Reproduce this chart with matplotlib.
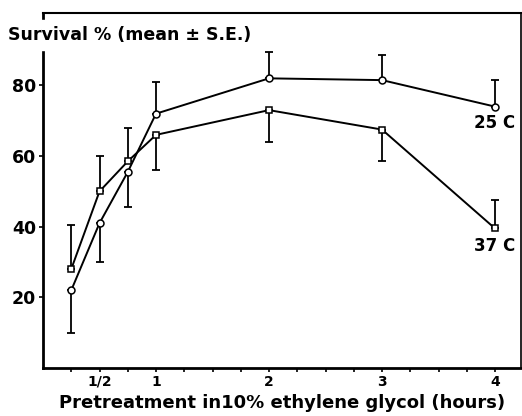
import matplotlib
matplotlib.use("Agg")
import matplotlib.pyplot as plt

hours = [0.25, 0.5, 0.75, 1, 2, 3, 4]

# 25 C series (open circles)
surv_25 = [22, 41, 55.5, 72, 82, 81.5, 74]
se_25 = [12, 11, 10, 9, 7.5, 7, 7.5]
side_25 = ['down', 'down', 'down', 'up', 'up', 'up', 'up']

# 37 C series (open squares)
surv_37 = [28, 50, 58.5, 66, 73, 67.5, 39.5]
se_37 = [12.5, 10, 9.5, 10, 9, 9, 8]
side_37 = ['up', 'up', 'up', 'down', 'down', 'down', 'up']

xtick_pos = [0.25, 0.5, 0.75, 1, 2, 3, 4]
xtick_labels = ['', '1/2', '', '1', '2', '3', '4']
ytick_pos = [20, 40, 60, 80]


def one_sided(se, side):
    lower = [s if d == 'down' else 0 for s, d in zip(se, side)]
    upper = [s if d == 'up' else 0 for s, d in zip(se, side)]
    return [lower, upper]


plt.rcParams['font.family'] = 'DejaVu Sans'
plt.rcParams['font.weight'] = 'bold'
fig = plt.figure(figsize=(5.22, 4.16), dpi=100)
ax = fig.add_axes([43 / 522, 1 - 368 / 416, 478 / 522, 355 / 416])

for y, se, side, mk in [(surv_25, se_25, side_25, 'o'),
                        (surv_37, se_37, side_37, 's')]:
    ax.errorbar(hours, y, yerr=one_sided(se, side), fmt='none', ecolor='black',
                elinewidth=1.3, capsize=3, capthick=1.3, zorder=2)
    ax.plot(hours, y, color='black', lw=1.4, marker=mk, markersize=5,
            markerfacecolor='white', markeredgecolor='black', markeredgewidth=1.1,
            zorder=3)

ax.text(4.0, 69.5, '25 C', fontsize=12, ha='center', va='center')
ax.text(4.0, 34.5, '37 C', fontsize=12, ha='center', va='center')

ax.set_xlim(0, 4.23)
ax.set_ylim(0, 100.5)
ax.set_xticks(xtick_pos)
ax.set_xticklabels(xtick_labels, fontsize=10)
ax.set_xticks([1.25, 1.5, 1.75, 2.25, 2.5, 2.75, 3.25, 3.5, 3.75], minor=True)
ax.set_yticks(ytick_pos)
ax.set_yticklabels([str(v) for v in ytick_pos], fontsize=12.5)
ax.tick_params(axis='x', which='both', direction='out', length=3, width=1.2,
               pad=2)
ax.tick_params(axis='y', direction='out', length=3, width=1.2, pad=2)

ax.spines['left'].set_linewidth(2)
ax.spines['bottom'].set_linewidth(2)
ax.spines['top'].set_linewidth(1.5)
ax.spines['right'].set_linewidth(1.2)

fig.text(8 / 522, 1 - 35 / 416, 'Survival % (mean \u00b1 S.E.)', fontsize=12.5,
         ha='left', va='center', backgroundcolor='white')
ax.set_xlabel('Pretreatment in10% ethylene glycol (hours)', fontsize=13,
              fontweight='bold', labelpad=4)

fig.savefig('out.png', dpi=100)
